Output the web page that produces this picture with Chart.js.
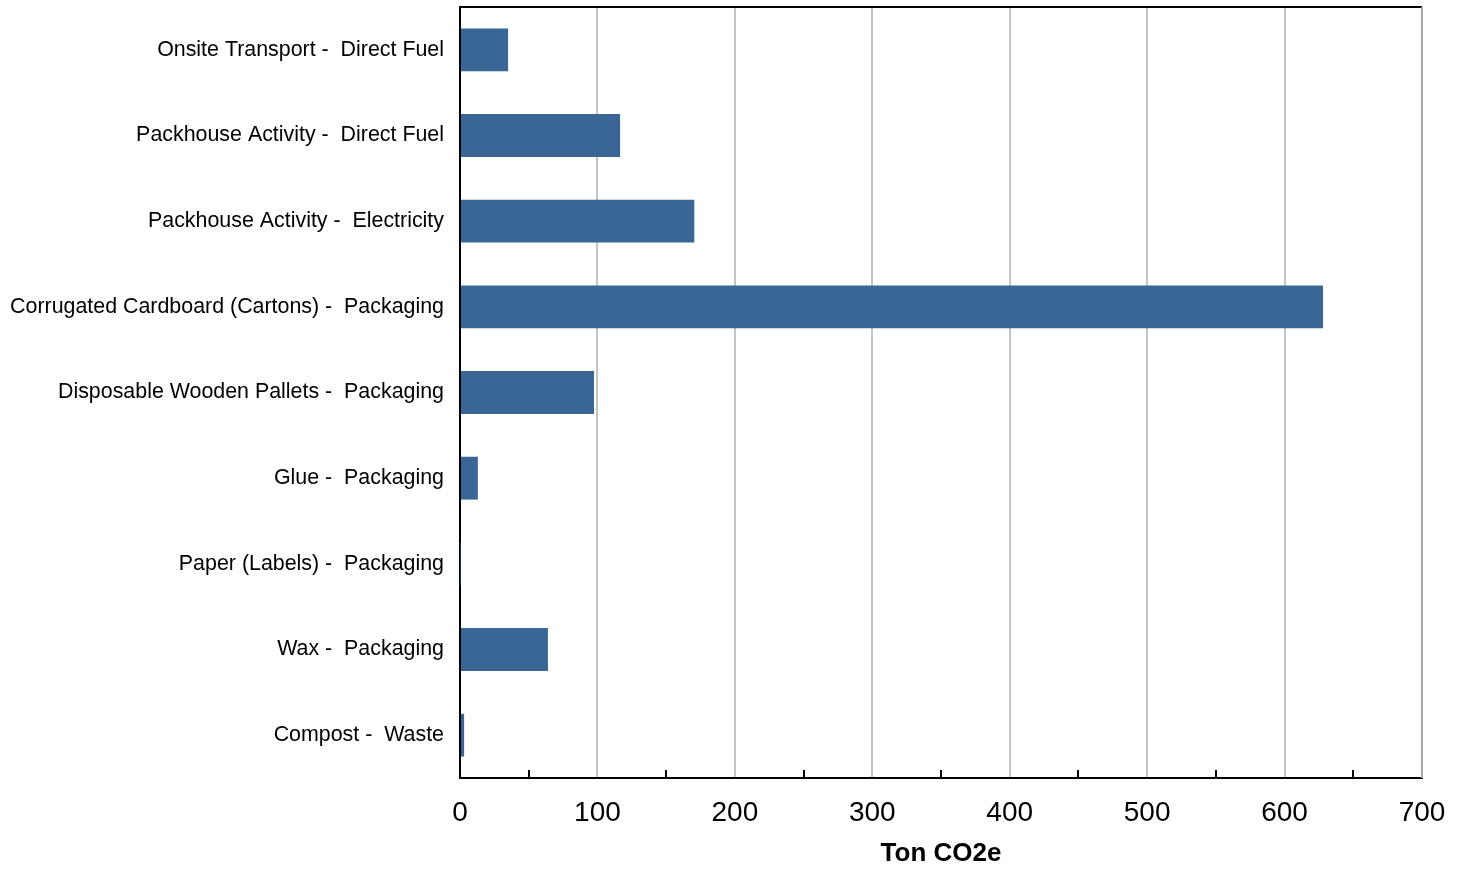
<!DOCTYPE html>
<html><head><meta charset="utf-8">
<script src="https://cdn.jsdelivr.net/npm/chart.js@4"></script>
<style>html,body{margin:0;padding:0;background:#fff}#wrap{width:1467px;height:869px}</style>
</head><body><div id="wrap"><canvas id="c" width="1467" height="869"></canvas></div>
<script>
const categories = [
  "Onsite Transport -  Direct Fuel",
  "Packhouse Activity -  Direct Fuel",
  "Packhouse Activity -  Electricity",
  "Corrugated Cardboard (Cartons) -  Packaging",
  "Disposable Wooden Pallets -  Packaging",
  "Glue -  Packaging",
  "Paper (Labels) -  Packaging",
  "Wax -  Packaging",
  "Compost -  Waste"
];
const values = [35, 116.5, 170.5, 628, 97.5, 13, 0.3, 64, 3];
const xTicks = [0, 100, 200, 300, 400, 500, 600, 700];
const minorTicks = [50, 150, 250, 350, 450, 550, 650];
const axisTitle = "Ton CO2e";

const framePlugin = {
  id: 'frame',
  afterDraw(chart) {
    const {ctx, chartArea: a, scales: {x}} = chart;
    ctx.save();
    ctx.strokeStyle = '#000'; ctx.lineWidth = 2;
    ctx.beginPath(); ctx.moveTo(a.left, a.top); ctx.lineTo(a.right, a.top); ctx.stroke();
    ctx.strokeStyle = '#a8a8a8'; ctx.lineWidth = 2;
    ctx.beginPath(); ctx.moveTo(a.right, a.top); ctx.lineTo(a.right, a.bottom); ctx.stroke();
    ctx.strokeStyle = '#000'; ctx.lineWidth = 2;
    minorTicks.forEach(v => {
      const px = Math.round(x.getPixelForValue(v));
      ctx.beginPath(); ctx.moveTo(px, a.bottom); ctx.lineTo(px, a.bottom - 8); ctx.stroke();
    });
    ctx.restore();
  }
};

new Chart(document.getElementById('c'), {
  type: 'bar',
  data: { labels: categories, datasets: [{ data: values, backgroundColor: '#3a6696', categoryPercentage: 0.5, barPercentage: 1.0 }] },
  options: {
    indexAxis: 'y', responsive: false, animation: false,
    layout: { padding: { top: 7, right: 45, left: 0, bottom: 0 } },
    plugins: { legend: { display: false }, tooltip: { enabled: false } },
    scales: {
      x: {
        type: 'linear', min: 0, max: 700,
        afterBuildTicks(s) { s.ticks = xTicks.map(v => ({ value: v })); },
        afterFit(s) { s.height = 91; },
        grid: { color: '#c4c4c4', lineWidth: 2, drawTicks: false },
        border: { color: '#000', width: 2 },
        ticks: { color: '#000', font: { family: 'Liberation Sans, Arial', size: 28 }, padding: 18 },
        title: { display: true, text: axisTitle, color: '#000', font: { family: 'Liberation Sans, Arial', size: 26, weight: 'bold' }, padding: { top: 2, bottom: 0 } }
      },
      y: {
        afterFit(s) { s.width = 460; s.paddingTop = 0; s.paddingBottom = 0; },
        grid: { display: false, drawTicks: false },
        border: { color: '#000', width: 2 },
        ticks: { color: '#000', font: { family: 'Liberation Sans, Arial', size: 21.4 }, padding: 16 }
      }
    }
  },
  plugins: [framePlugin]
});
</script></body></html>
